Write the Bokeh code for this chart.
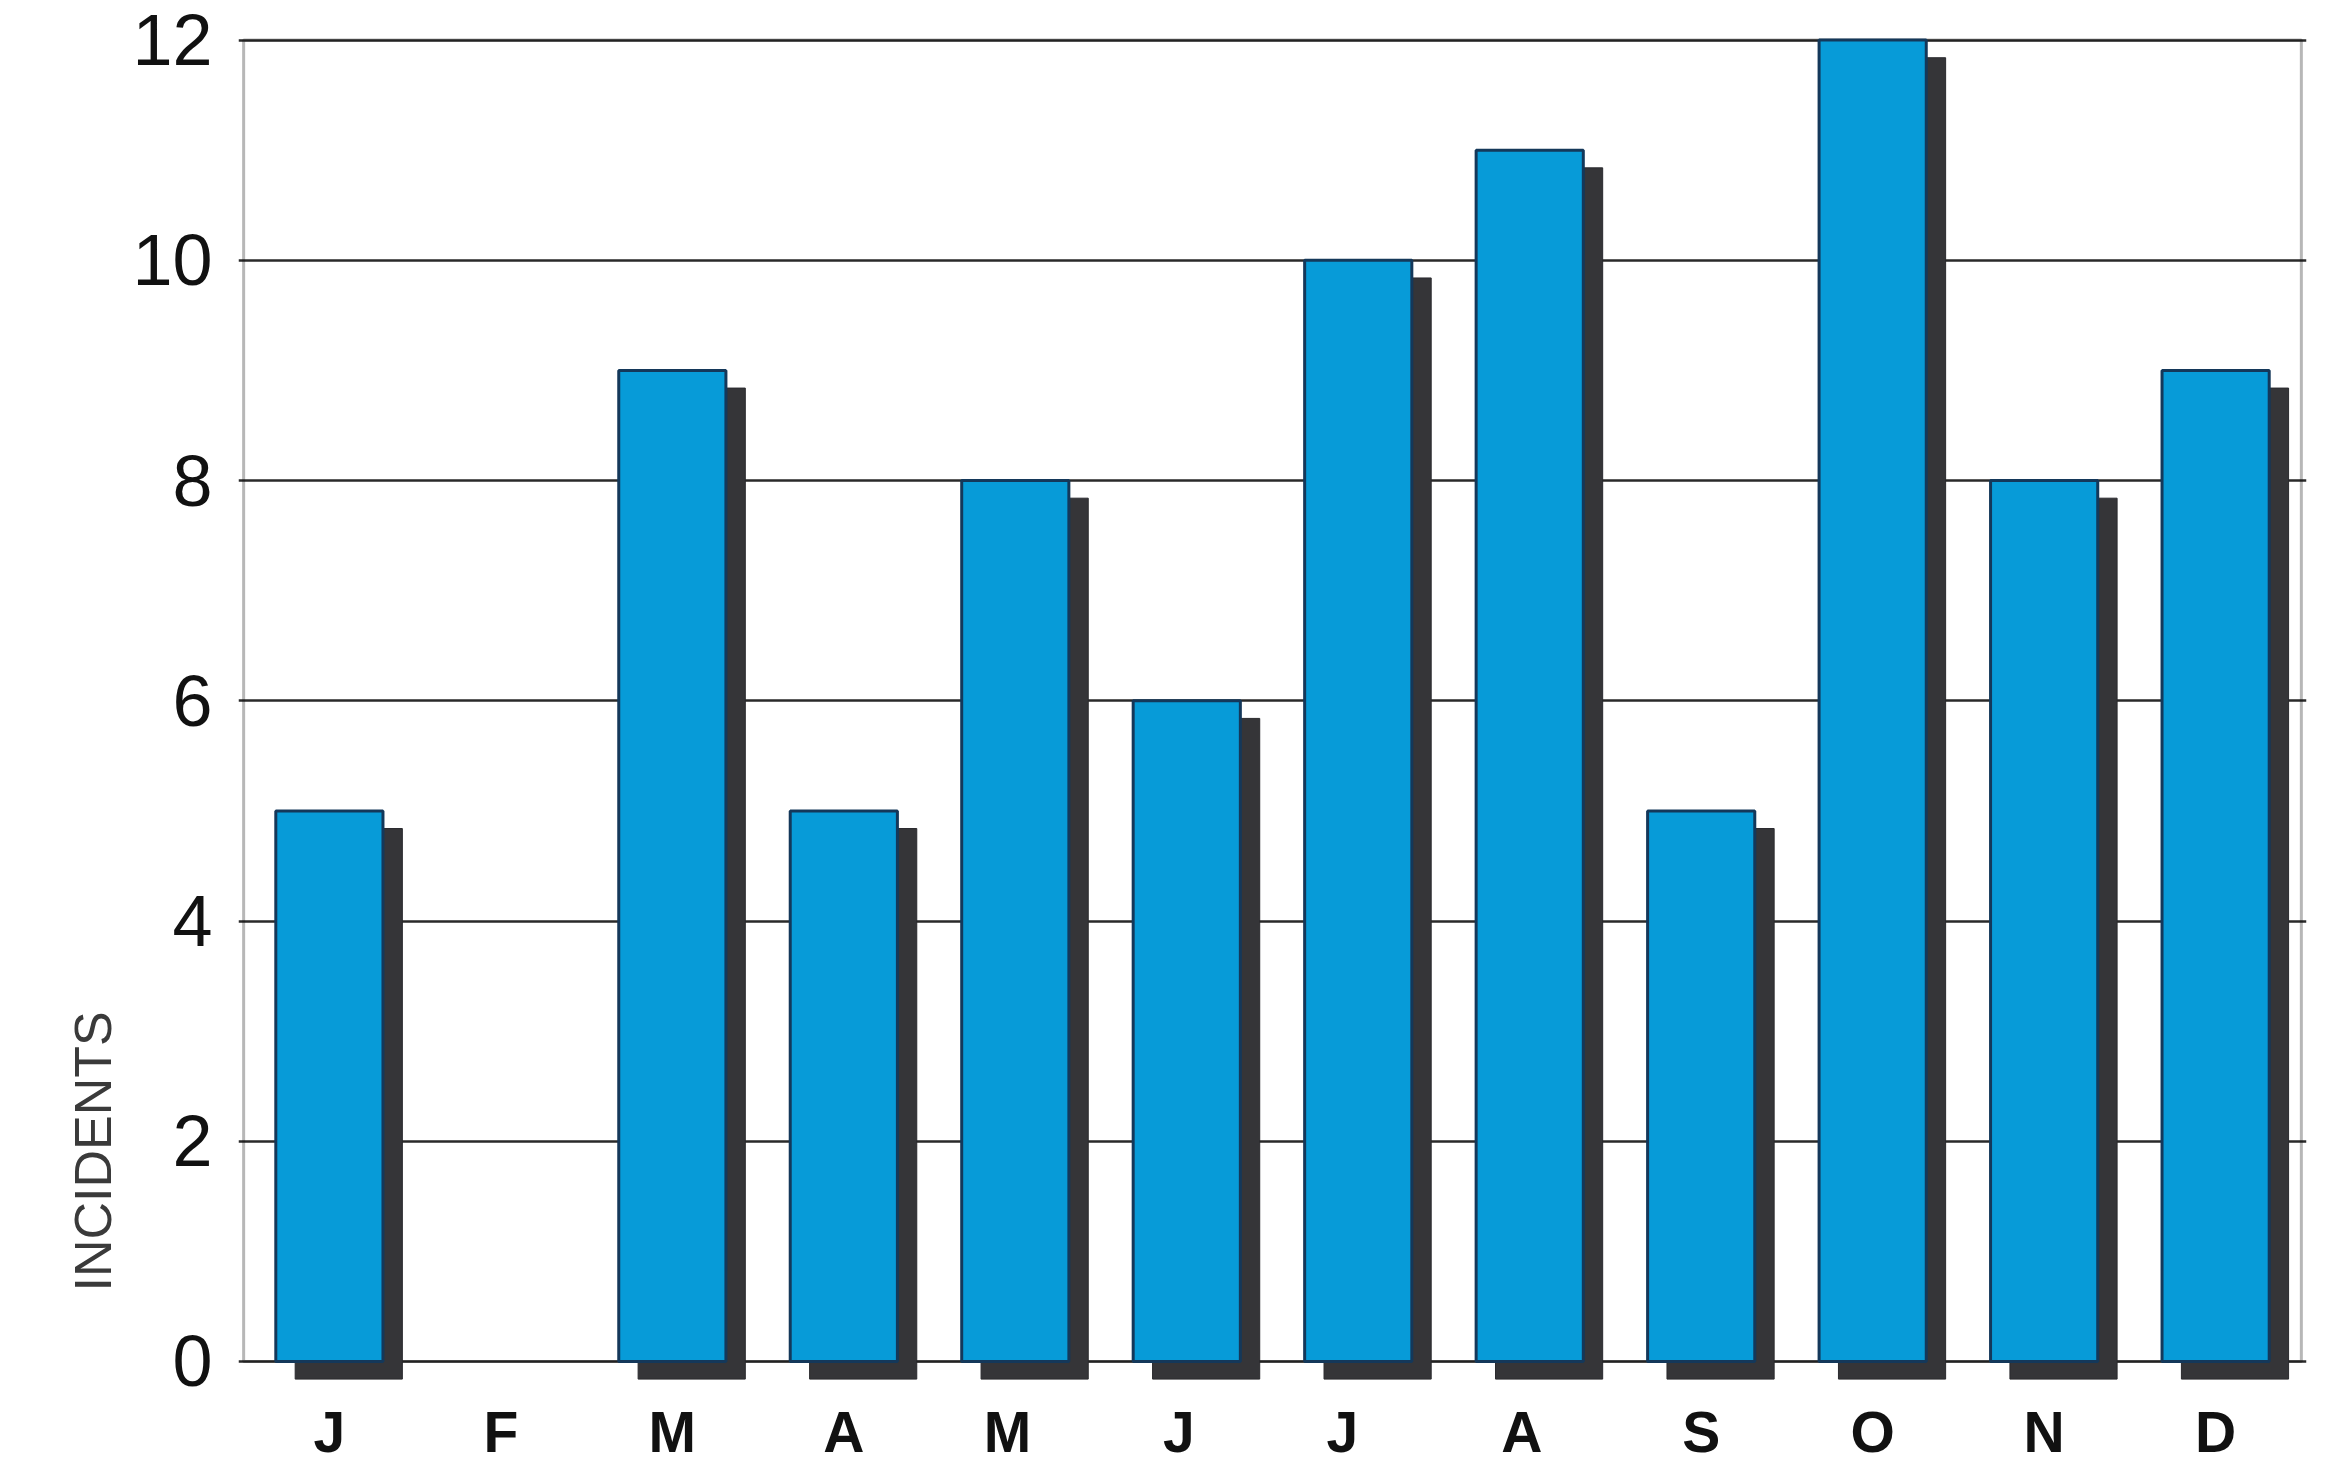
import math
from bokeh.plotting import figure
from bokeh.models import ColumnDataSource, FixedTicker, BoxAnnotation, Title, FactorRange, CDSView, BooleanFilter
from bokeh.transform import dodge
from bokeh.embed import file_html
from bokeh.resources import INLINE

# ---- data ----
months = ["J", "F", "M", "A", "M ", "J ", "J  ", "A ", "S", "O", "N", "D"]
month_labels = ["J", "F", "M", "A", "M", "J", "J", "A", "S", "O", "N", "D"]
incidents = [5, 0, 9, 5, 8, 6, 10, 11, 5, 12, 8, 9]
y_ticks = [0, 2, 4, 6, 8, 10, 12]

shadow_dy = 0.16
src = ColumnDataSource(dict(
    m=months,
    v=incidents,
    sv=[x - shadow_dy for x in incidents],
    sb=[-shadow_dy for x in incidents],
))
view = CDSView(filter=BooleanFilter([x > 0 for x in incidents]))

p = figure(width=2313, height=1466,
           x_range=FactorRange(factors=months, range_padding=0.005),
           y_range=(-0.2, 12.06), output_backend="svg", toolbar_location=None,
           min_border_left=238, min_border_right=7, min_border_top=33, min_border_bottom=78)
p.outline_line_color = None
p.background_fill_color = "white"
p.border_fill_color = "white"

# frame box 0..12
box = BoxAnnotation(left=0, right=12, bottom=0, top=12, fill_alpha=0,
                    line_color="#111111", line_width=3, level="underlay")
p.add_layout(box)

# shadow bars
p.vbar(x=dodge("m", 0.113, range=p.x_range), top="sv", bottom="sb", width=0.625,
       source=src, view=view, fill_color="#353538", line_color="#2a2a2e", line_width=1)
# main bars
p.vbar(x="m", top="v", bottom=0, width=0.625, source=src, view=view,
       fill_color="#079bd8", line_color="#14385a", line_width=3)

# axes
p.yaxis.ticker = FixedTicker(ticks=y_ticks)
p.yaxis.axis_line_color = None
p.yaxis.major_tick_line_color = None
p.yaxis.minor_tick_line_color = None
p.yaxis.major_label_standoff = 20
p.yaxis.major_label_text_font = "Liberation Sans"
p.yaxis.major_label_text_font_size = "72px"
p.yaxis.major_label_text_color = "#111111"

p.xaxis.axis_line_color = None
p.xaxis.major_tick_line_color = None
p.xaxis.major_label_standoff = 10
p.xaxis.major_label_text_font = "Liberation Sans"
p.xaxis.major_label_text_font_style = "bold"
p.xaxis.major_label_text_font_size = "57px"
p.xaxis.major_label_text_color = "#111111"
p.xaxis.major_label_overrides = {m: l for m, l in zip(months, month_labels)}

p.xgrid.grid_line_color = None
p.ygrid.ticker = FixedTicker(ticks=y_ticks)
p.ygrid.grid_line_color = "#2a2a2a"
p.ygrid.grid_line_width = 2.5

ttl = Title(text="INCIDENTS", align="left", offset=92, standoff=16,
            text_font="Liberation Sans", text_font_size="52px",
            text_font_style="normal", text_color="#3a3a3a")
p.add_layout(ttl, "left")

open("out.html", "w").write(file_html(p, INLINE))
